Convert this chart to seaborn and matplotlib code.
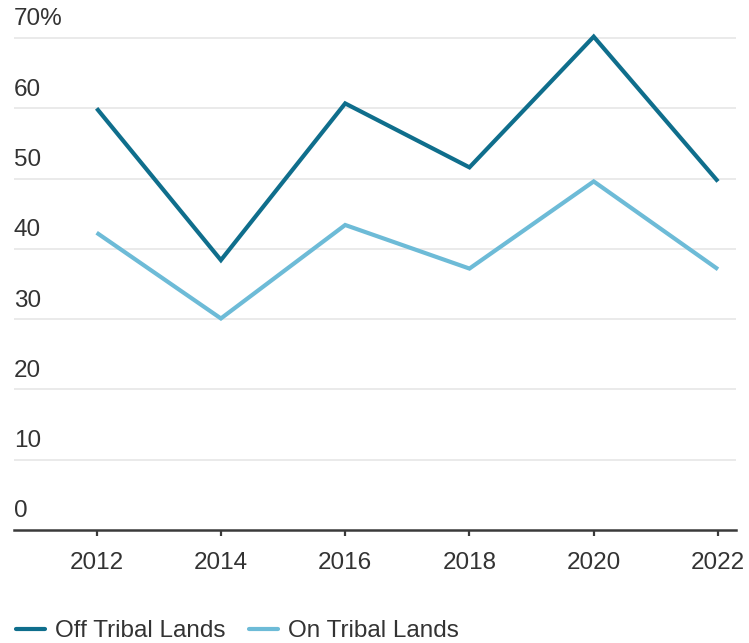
import matplotlib
matplotlib.use("Agg")
import matplotlib.pyplot as plt
import matplotlib.transforms as mtransforms
import seaborn as sns
import pandas as pd

years = [2012, 2014, 2016, 2018, 2020, 2022]
off_tribal = [60.0, 38.4, 60.7, 51.6, 70.2, 49.6]
on_tribal = [42.3, 30.1, 43.4, 37.2, 49.6, 37.1]
series_names = ["Off Tribal Lands", "On Tribal Lands"]
series_colors = ["#0f6e8c", "#6dbbd7"]
y_ticks = [0, 10, 20, 30, 40, 50, 60, 70]
y_tick_labels = ["0", "10", "20", "30", "40", "50", "60", "70%"]

df = pd.DataFrame({
    "year": years * 2,
    "share": off_tribal + on_tribal,
    "group": [series_names[0]] * len(years) + [series_names[1]] * len(years),
})

sns.set_theme(style="white")
plt.rcParams["font.family"] = ["Liberation Sans", "DejaVu Sans"]
text_color = "#333333"
fs = 17.5

W, H, DPI = 749, 643, 100
fig = plt.figure(figsize=(W / DPI, H / DPI), dpi=DPI)
ax_left, ax_right = 14, 736
ax_bottom, ax_top = 530, 24
ax = fig.add_axes([ax_left / W, 1 - ax_bottom / H,
                   (ax_right - ax_left) / W, (ax_bottom - ax_top) / H])

sns.lineplot(data=df, x="year", y="share", hue="group",
             palette=dict(zip(series_names, series_colors)),
             linewidth=3.0, ax=ax, legend=False, clip_on=False)
for line in ax.lines:
    line.set_solid_joinstyle("miter")
    line.set_solid_capstyle("butt")

ax.set_xlim(2010.67, 2022.29)
ax.set_ylim(0, 72)
ax.set_xlabel("")
ax.set_ylabel("")

# horizontal gridlines
for v in y_ticks[1:]:
    ax.axhline(v, color="#e8e8e8", linewidth=1.3, zorder=0)

for s in ["top", "right", "left"]:
    ax.spines[s].set_visible(False)
ax.spines["bottom"].set_color("#3a3a3a")
ax.spines["bottom"].set_linewidth(1.8)

ax.set_xticks(years)
ax.set_xticklabels([str(y) for y in years])
ax.tick_params(axis="x", direction="out", length=4.5, width=1.6,
               color="#3a3a3a", pad=11, labelsize=fs, labelcolor=text_color,
               bottom=True)
ax.set_yticks([])

# y labels sit above their gridlines at the left edge
offset = mtransforms.offset_copy(ax.transData, fig=fig, x=0, y=5.5, units="points")
blend = mtransforms.blended_transform_factory(ax.transAxes, offset)
for v, lab in zip(y_ticks, y_tick_labels):
    ax.text(0, v, lab, transform=blend, ha="left", va="bottom",
            fontsize=fs, color=text_color)

handles = [plt.Line2D([], [], color=c, linewidth=3) for c in series_colors]
fig.legend(handles, series_names, loc="center left",
           bbox_to_anchor=(6 / W, 1 - 631 / H), ncol=2, frameon=False,
           fontsize=fs, handlelength=1.2, handletextpad=0.42,
           columnspacing=0.95, labelcolor=text_color, borderaxespad=0)

fig.savefig("out.png", dpi=DPI, facecolor="white")
